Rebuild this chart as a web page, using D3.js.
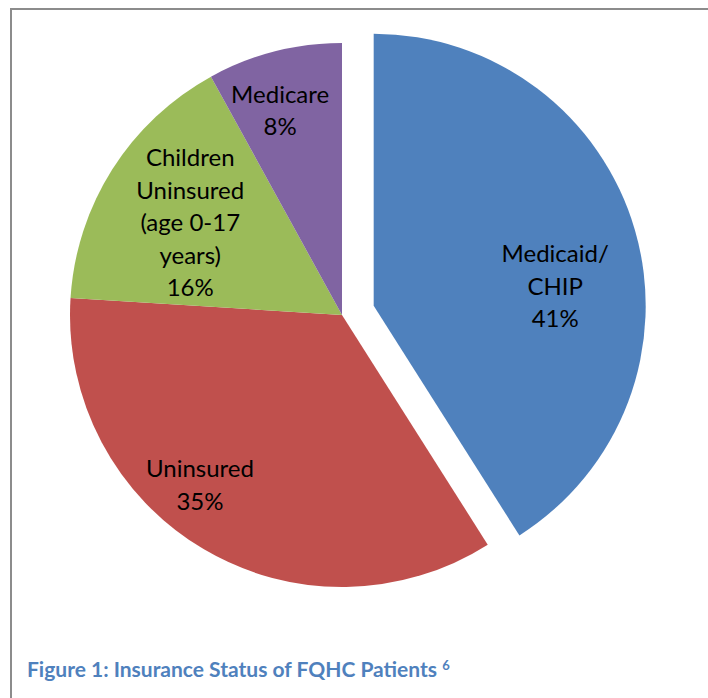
<!DOCTYPE html>
<html>
<head>
<meta charset="utf-8">
<script src="https://cdn.jsdelivr.net/npm/d3@7"></script>
<style>
  html, body { margin: 0; padding: 0; background: #fff; }
  svg { display: block; }
</style>
</head>
<body>
<svg id="chart" width="708" height="698"></svg>
<script>
// ---- data ----
const categories = ["Medicaid/ CHIP", "Uninsured", "Children Uninsured (age 0-17 years)", "Medicare"];
const values = [41, 35, 16, 8];
const colors = ["#4F81BD", "#C0504D", "#9BBB59", "#8064A2"];
const labelLines = [
  ["Medicaid/", "CHIP", "41%"],
  ["Uninsured", "35%"],
  ["Children", "Uninsured", "(age 0-17", "years)", "16%"],
  ["Medicare", "8%"]
];
const explode = [true, false, false, false];
const caption = "Figure 1: Insurance Status of FQHC Patients";
const captionNote = "6";

// ---- layout ----
const svg = d3.select("#chart");
const cx = 342, cy = 315, r = 272, explodeDist = 33;
const font = "Lato, 'Open Sans', 'DejaVu Sans', sans-serif";
// label placement (polar, degrees clockwise from 12 o'clock, distance px from slice centre)
const labelPolar = [[83.7, 182.6], [220, 221], [301.5, 178], [343.2, 214]];
const lineH = 32.5;

// border
svg.append("rect")
  .attr("x", 11).attr("y", 9).attr("width", 720).attr("height", 720)
  .attr("fill", "none").attr("stroke", "#8c8c8c").attr("stroke-width", 2);

const pie = d3.pie().sort(null).value(d => d)(values);
const arc = d3.arc().innerRadius(0).outerRadius(r);

const g = svg.append("g").attr("transform", `translate(${cx},${cy})`);

pie.forEach((p, i) => {
  const mid = (p.startAngle + p.endAngle) / 2;
  const off = explode[i] ? explodeDist : 0;
  const ox = Math.sin(mid) * off, oy = -Math.cos(mid) * off;
  const sg = g.append("g").attr("transform", `translate(${ox},${oy})`);
  sg.append("path").attr("d", arc(p)).attr("fill", colors[i]);

  const a = labelPolar[i][0] * Math.PI / 180, d = labelPolar[i][1];
  const lx = Math.sin(a) * d, ly = -Math.cos(a) * d;
  const lines = labelLines[i];
  const t = sg.append("text")
    .attr("text-anchor", "middle")
    .attr("font-family", font)
    .attr("font-size", 24)
    .attr("fill", "#000");
  lines.forEach((ln, k) => {
    t.append("tspan")
      .attr("x", lx)
      .attr("y", ly + (k - (lines.length - 1) / 2) * lineH + 9)
      .text(ln);
  });
});

// caption
const cap = svg.append("text")
  .attr("x", 27).attr("y", 677)
  .attr("font-family", font)
  .attr("font-weight", "bold")
  .attr("font-size", 21)
  .attr("fill", "#4F81BD")
  .text(caption + " ");
cap.append("tspan").attr("font-size", 13).attr("dy", -7).text(captionNote);
</script>
</body>
</html>
